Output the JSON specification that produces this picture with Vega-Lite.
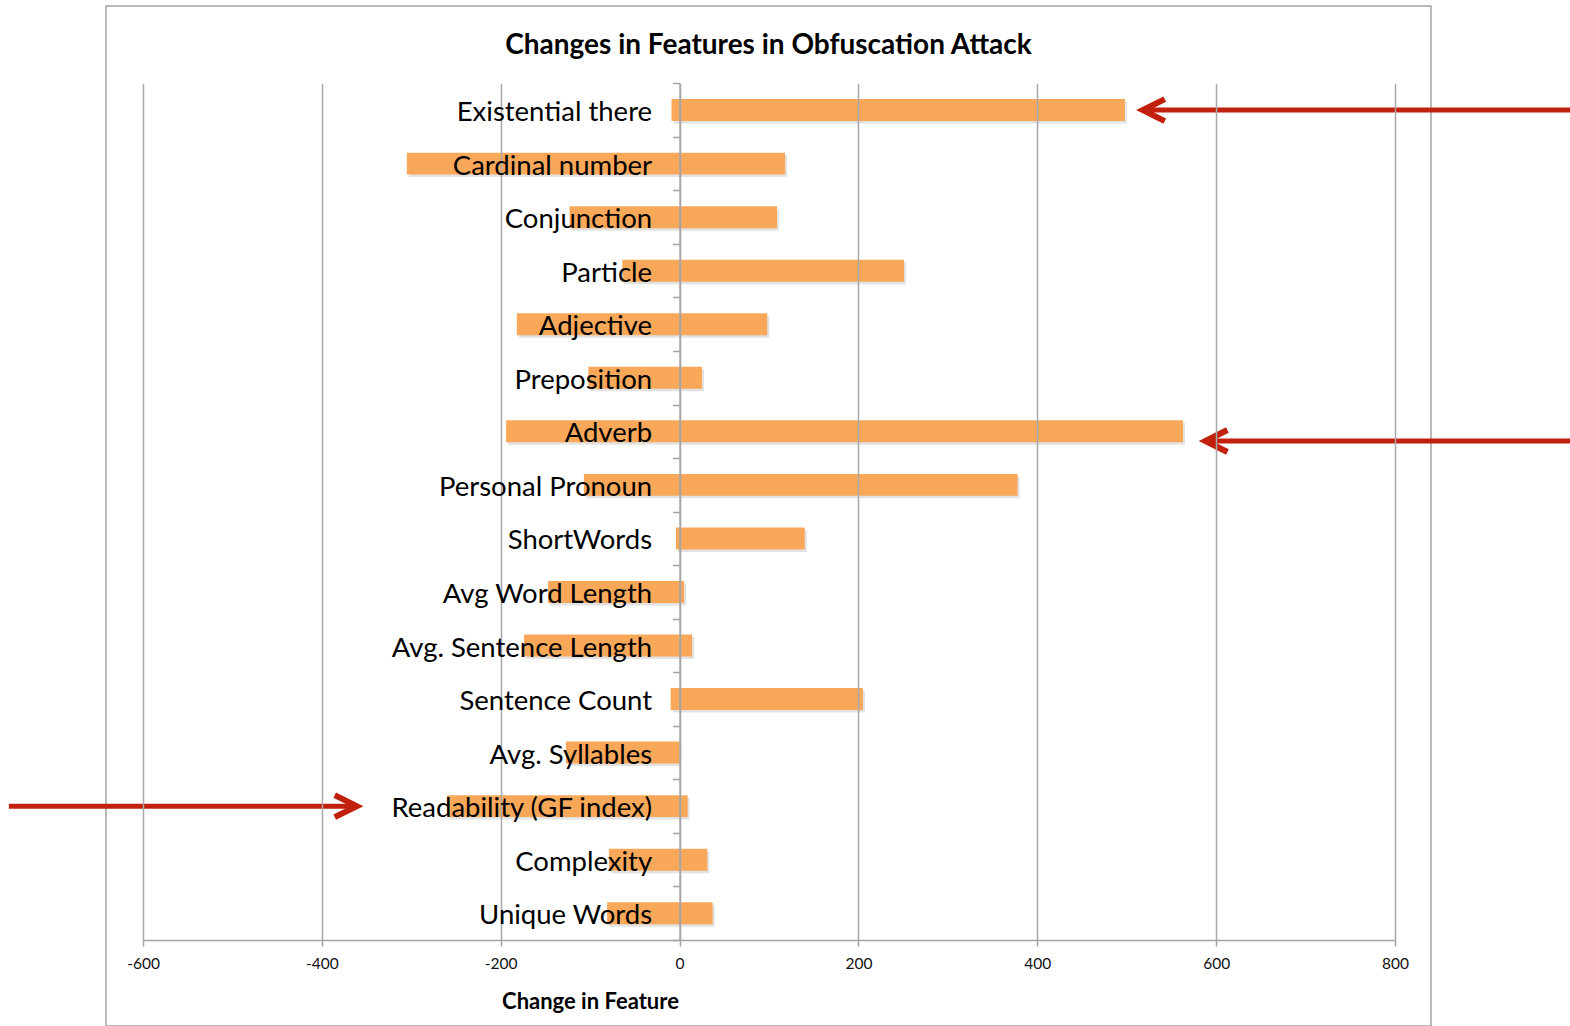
{
  "$schema": "https://vega.github.io/schema/vega-lite/v6.json",
  "autosize": "none",
  "padding": {"left": 106, "top": 6, "right": 139, "bottom": 0},
  "width": 1325,
  "height": 1020,
  "background": "white",
  "title": {
    "text": "Changes in Features in Obfuscation Attack",
    "frame": "group",
    "anchor": "middle",
    "offset": -82,
    "baseline": "middle",
    "font": "Lato",
    "fontSize": 28,
    "fontWeight": "bold",
    "color": "#000000"
  },
  "config": {
    "font": "Lato",
    "view": {"stroke": "#A3A3A3", "strokeWidth": 1.5}
  },
  "resolve": {"axis": {"x": "independent"}},
  "datasets": {
    "features": [
      {"feature": "Existential there", "low": -9, "high": 498},
      {"feature": "Cardinal number", "low": -305, "high": 118},
      {"feature": "Conjunction", "low": -123, "high": 109},
      {"feature": "Particle", "low": -64, "high": 251},
      {"feature": "Adjective", "low": -182, "high": 98},
      {"feature": "Preposition", "low": -102, "high": 25},
      {"feature": "Adverb", "low": -194, "high": 563},
      {"feature": "Personal Pronoun", "low": -107, "high": 378},
      {"feature": "ShortWords", "low": -4, "high": 140},
      {"feature": "Avg Word Length", "low": -147, "high": 5},
      {"feature": "Avg. Sentence Length", "low": -174, "high": 14},
      {"feature": "Sentence Count", "low": -10, "high": 205},
      {"feature": "Avg. Syllables", "low": -127, "high": 0},
      {"feature": "Readability (GF index)", "low": -260, "high": 9},
      {"feature": "Complexity", "low": -79, "high": 31},
      {"feature": "Unique Words", "low": -81, "high": 37}
    ],
    "callouts": [
      {"feature": "Existential there", "tip": 518, "tail": 996, "dir": "left"},
      {"feature": "Adverb", "tip": 588, "tail": 996, "dir": "left"},
      {"feature": "Readability (GF index)", "tip": -361, "tail": -750, "dir": "right"}
    ]
  },
  "layer": [
    {
      "data": {"name": "features"},
      "mark": {"type": "bar", "height": {"band": 0.41}, "color": "#7a7a7a", "opacity": 0.22, "xOffset": 2, "x2Offset": 2, "yOffset": 2.5},
      "encoding": {
        "y": {
          "field": "feature",
          "type": "nominal",
          "scale": {
            "domain": ["Existential there", "Cardinal number", "Conjunction", "Particle", "Adjective", "Preposition", "Adverb", "Personal Pronoun", "ShortWords", "Avg Word Length", "Avg. Sentence Length", "Sentence Count", "Avg. Syllables", "Readability (GF index)", "Complexity", "Unique Words"],
            "range": [77.3, 934],
            "paddingInner": 0,
            "paddingOuter": 0
          },
          "axis": {
            "title": null,
            "orient": "left",
            "offset": -573.6,
            "domainColor": "#A3A3A3",
            "domainWidth": 1.5,
            "tickBand": "extent",
            "tickColor": "#A3A3A3",
            "tickWidth": 1.5,
            "tickSize": 7,
            "labelFont": "Lato",
            "labelFontSize": 27.5,
            "labelColor": "#000000",
            "labelPadding": 21,
            "labelOffset": 2.5,
            "labelLimit": 500,
            "grid": false,
            "zindex": 1
          }
        },
        "x": {
          "field": "low",
          "type": "quantitative",
          "scale": {"domain": [-600, 800], "range": [37, 1289], "nice": false, "zero": false},
          "axis": {
            "orient": "top",
            "values": [-600, -400, -200, 0, 200, 400, 600, 800],
            "grid": true,
            "gridColor": "#A8A8A8",
            "gridWidth": 1.5,
            "domain": false,
            "ticks": false,
            "labels": false,
            "title": null,
            "zindex": 1
          }
        },
        "x2": {"field": "high"}
      }
    },
    {
      "data": {"name": "features"},
      "mark": {"type": "bar", "height": {"band": 0.41}, "color": "#F9A85A"},
      "encoding": {
        "y": {"field": "feature", "type": "nominal"},
        "x": {
          "field": "low",
          "type": "quantitative",
          "axis": {
            "orient": "bottom",
            "offset": -86,
            "values": [-600, -400, -200, 0, 200, 400, 600, 800],
            "labelExpr": "'' + datum.value",
            "labelFlush": false,
            "grid": false,
            "domainColor": "#A3A3A3",
            "domainWidth": 1.5,
            "tickColor": "#A3A3A3",
            "tickWidth": 1.5,
            "tickSize": 6,
            "labelFont": "Lato",
            "labelFontSize": 15.5,
            "labelColor": "#111111",
            "labelPadding": 10,
            "title": "Change in Feature",
            "titleFont": "Lato",
            "titleFontSize": 22,
            "titleFontWeight": "bold",
            "titleColor": "#000000",
            "titleX": 484,
            "titleY": 61,
            "titleAlign": "center",
            "titleBaseline": "middle",
            "zindex": 1
          }
        },
        "x2": {"field": "high"}
      }
    },
    {
      "data": {"name": "callouts"},
      "transform": [{"filter": "datum.feature !== 'Adverb'"}],
      "mark": {"type": "rule", "color": "#C0200C", "strokeWidth": 5, "strokeCap": "butt"},
      "encoding": {
        "y": {"field": "feature", "type": "nominal", "bandPosition": 0.5},
        "x": {"field": "tip", "type": "quantitative", "axis": null},
        "x2": {"field": "tail"}
      }
    },
    {
      "data": {"name": "callouts"},
      "transform": [{"filter": "datum.feature === 'Adverb'"}],
      "mark": {"type": "rule", "color": "#C0200C", "strokeWidth": 5, "strokeCap": "butt"},
      "encoding": {
        "y": {"field": "feature", "type": "nominal", "bandPosition": 0.68},
        "x": {"field": "tip", "type": "quantitative", "axis": null},
        "x2": {"field": "tail"}
      }
    },
    {
      "data": {"name": "callouts"},
      "transform": [{"filter": "datum.feature !== 'Adverb'"}],
      "mark": {"type": "point", "filled": false, "size": 1936, "strokeWidth": 6, "strokeJoin": "miter", "color": "#C0200C", "opacity": 1},
      "encoding": {
        "y": {"field": "feature", "type": "nominal", "bandPosition": 0.5},
        "x": {"field": "tip", "type": "quantitative", "axis": null},
        "shape": {"field": "dir", "type": "nominal", "scale": {"domain": ["left", "right"], "range": ["M1,-0.5L0,0L1,0.5", "M-1,-0.5L0,0L-1,0.5"]}, "legend": null}
      }
    },
    {
      "data": {"name": "callouts"},
      "transform": [{"filter": "datum.feature === 'Adverb'"}],
      "mark": {"type": "point", "filled": false, "size": 1936, "strokeWidth": 6, "strokeJoin": "miter", "color": "#C0200C", "opacity": 1},
      "encoding": {
        "y": {"field": "feature", "type": "nominal", "bandPosition": 0.68},
        "x": {"field": "tip", "type": "quantitative", "axis": null},
        "shape": {"field": "dir", "type": "nominal", "legend": null}
      }
    }
  ]
}
